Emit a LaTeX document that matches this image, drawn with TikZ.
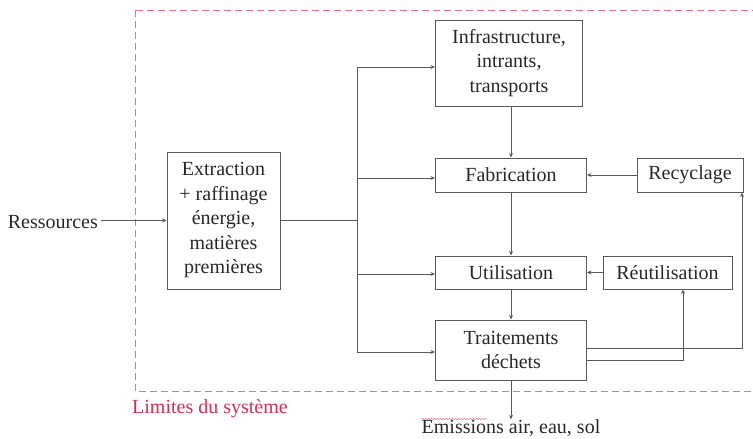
\documentclass[tikz,border=0pt]{standalone}
\usepackage{fontspec}
\setmainfont{Liberation Serif}
\usetikzlibrary{arrows.meta,decorations.pathmorphing}
\definecolor{boxline}{RGB}{90,90,90}
\definecolor{txt}{RGB}{40,40,40}
\definecolor{limitline}{RGB}{240,110,145}
\definecolor{limittxt}{RGB}{215,45,85}
\begin{document}
\begin{tikzpicture}[x={(1pt,0)},y={(0,-1pt)},
  box/.style={draw=boxline,line width=1pt,fill=white,text=txt,align=center,
    inner sep=0pt,font=\fontsize{20}{24.5}\selectfont},
  lbl/.style={text=txt,inner sep=0pt,font=\fontsize{20}{24}\selectfont},
  arr/.style={draw=boxline,line width=1pt,-{Stealth[length=4.5pt,width=4pt]}},
  wire/.style={draw=boxline,line width=1pt},
  limit/.style={draw=limitline,line width=1pt,dash pattern=on 7pt off 4pt}]
\useasboundingbox (0,0) rectangle (753,439);
\clip (0,0) rectangle (753,439);

% system boundary
\draw[limit] (135,10) rectangle (770,391);
\node[lbl,text=limittxt,anchor=west] (lim) at (132,409) {Limites du système};

% process boxes
\node[box,minimum width=113pt,minimum height=137pt] (ext) at (223.5,220.5)
  {Extraction\\+ raffinage\\énergie,\\matières\\premières};
\node[box,minimum width=147pt,minimum height=86pt] (infra) at (509,63)
  {Infrastructure,\\intrants,\\transports};
\node[box,minimum width=151pt,minimum height=34pt] (fab) at (511,175) {Fabrication};
\node[box,minimum width=106pt,minimum height=34pt] (rec) at (690,175) {Recyclage};
\node[box,minimum width=151pt,minimum height=33pt] (util) at (511,272.5) {Utilisation};
\node[box,minimum width=129pt,minimum height=33pt] (reut) at (667.5,272.5) {Réutilisation};
\node[box,minimum width=151pt,minimum height=60pt] (trait) at (511,350) {Traitements\\déchets};

% inputs and outputs
\node[lbl,anchor=east] (res) at (98,222) {Ressources};
\node[lbl] (emis) at (511,428) {Emissions air, eau, sol};
\draw[limittxt!70,line width=0.5pt,decorate,
  decoration={snake,amplitude=0.6pt,segment length=3pt}]
  ([yshift=9pt]emis.west) -- ++(66,0);

% distribution bus
\coordinate (r0) at (101,220.5);
\coordinate (b0) at (357,220.5);
\coordinate (b1) at (357,67);
\coordinate (b2) at (357,178);
\coordinate (b3) at (357,274);
\coordinate (b4) at (357,352);
\draw[arr] (r0) -- (r0 -| ext.west);
\draw[wire] (ext.east) -- (b0);
\draw[wire] (b1) -- (b4);
\draw[arr] (b1) -- (b1 -| infra.west);
\draw[arr] (b2) -- (b2 -| fab.west);
\draw[arr] (b3) -- (b3 -| util.west);
\draw[arr] (b4) -- (b4 -| trait.west);

% main chain
\draw[arr] (infra.south -| fab.north) -- (fab.north);
\draw[arr] (fab) -- (util);
\draw[arr] (util) -- (trait);
\draw[arr] (trait.south) -- (emis.north);

% loops
\draw[arr] (rec.west) -- (fab.east);
\draw[arr] (reut.west) -- (util.east);
\draw[arr] ([yshift=-10pt]trait.east) -| ([xshift=15.5pt]reut.south);
\draw[arr] ([yshift=2pt]trait.east) -| ([xshift=52pt]rec.south);
\end{tikzpicture}
\end{document}
